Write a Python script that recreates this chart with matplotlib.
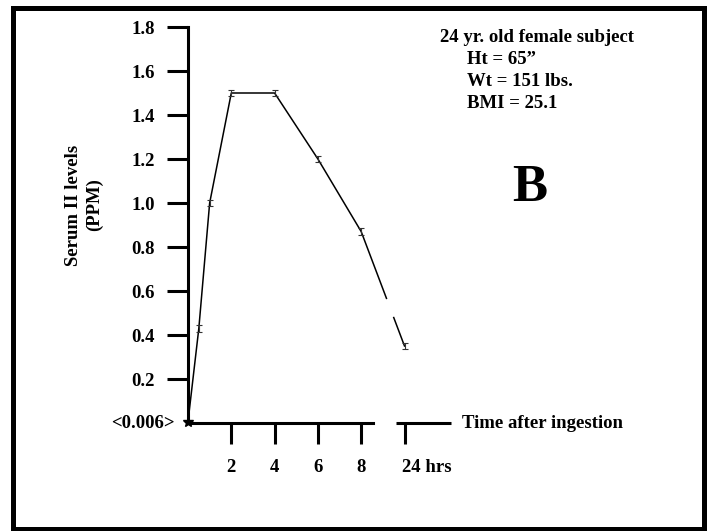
import matplotlib
matplotlib.use('Agg')
from matplotlib import pyplot as plt
from matplotlib.patches import Rectangle
from matplotlib import transforms
import numpy as np

# hours after ingestion, and where they sit on the broken axis
hours = [0, 0.5, 1, 2, 4, 6, 8, 24]
pos = [0, 0.5, 1, 2, 4, 6, 8, 10]
serum = [0.006, 0.43, 1.0, 1.5, 1.5, 1.2, 0.87, 0.35]
err = [0, 0.015, 0.015, 0.015, 0.015, 0.015, 0.015, 0.015]

yticks = [0.2, 0.4, 0.6, 0.8, 1.0, 1.2, 1.4, 1.6, 1.8]
xticks = [2, 4, 6, 8, 10]
xlabels = ['2', '4', '6', '8', '24 hrs']

subject = ['24 yr. old female subject', 'Ht = 65\u201d', 'Wt = 151 lbs.', 'BMI = 25.1']

plt.rcParams['font.family'] = ['Liberation Serif', 'DejaVu Serif']
plt.rcParams['font.weight'] = 'bold'

W, H = 709, 531
fig = plt.figure(figsize=(W / 100, H / 100), dpi=100)
ax = fig.add_axes([0, 0, 1, 1])

# pixel layout: x=0 at px 188, 21.65 px/hr; y=0 at px 423, 220 px/unit
x0, sx = 188, 21.65
y0, sy = 423, 220
ax.set_xlim(-x0 / sx, (W - x0) / sx)
ax.set_ylim((y0 - H) / sy, y0 / sy)
ax.patch.set_visible(False)

for s in ['top', 'right']:
    ax.spines[s].set_visible(False)
ax.spines['left'].set_position(('data', 0))
ax.spines['bottom'].set_position(('data', 0))
ax.spines['left'].set_bounds(0, 1.8)
ax.spines['bottom'].set_bounds(0, 8.55)
for s in ['left', 'bottom']:
    ax.spines[s].set_linewidth(2.2)
# second piece of the broken time axis
ax.plot([9.61, 12.15], [0, 0], color='black', lw=2.2, solid_capstyle='butt', clip_on=False)

ax.set_yticks(yticks)
ax.set_yticklabels(['%.1f' % v for v in yticks])
ax.set_xticks(xticks)
ax.set_xticklabels(xlabels)
ax.tick_params(axis='both', direction='out', length=15, width=2.2, labelsize=13.5)
ax.tick_params(axis='y', pad=9)
ax.tick_params(axis='x', pad=11)
last = ax.get_xticklabels()[-1]
last.set_horizontalalignment('left')
last.set_transform(last.get_transform() + transforms.ScaledTranslation(-3 / 100, 0, fig.dpi_scale_trans))

# data line with break between 8 h and 24 h
ax.plot(pos, serum, color='black', lw=1.1, zorder=3, clip_on=False)
brk = np.array([9.18, 9.49])
ax.plot(brk, np.interp(brk, pos, serum), color='white', lw=4, zorder=4, solid_capstyle='butt')
ax.errorbar(pos[1:], serum[1:], yerr=err[1:], fmt='none', ecolor='#333333',
            elinewidth=0.8, capsize=2, capthick=0.8, zorder=5)
ax.plot(pos[0], serum[0], marker='*', color='black', ms=7, zorder=5, clip_on=False)

ax.annotate('<0.006>', xy=(0, 0), xytext=(-9.5, 0), textcoords='offset points',
            ha='right', va='center', fontsize=13.5, fontweight='bold')

ax.text(-104 / sx, (y0 - 205) / sy, 'Serum II levels\n(PPM)', rotation=90, ha='center', va='center',
        multialignment='center', fontsize=13.5, fontweight='bold', linespacing=1.25)
ax.text((462 - x0) / sx, 0, 'Time after ingestion', ha='left', va='center',
        fontsize=13.5, fontweight='bold')

ax.text((440 - x0) / sx, (y0 - 37) / sy, subject[0], ha='left', va='center',
        fontsize=13.5, fontweight='bold')
for i, line in enumerate(subject[1:]):
    ax.text((467 - x0) / sx, (y0 - 60 - 22 * i) / sy, line, ha='left', va='center',
            fontsize=13.5, fontweight='bold')

ax.text((530 - x0) / sx, (y0 - 188) / sy, 'B', ha='center', va='center',
        fontsize=38, fontweight='bold')

# thick frame round the panel
fig.add_artist(Rectangle((12.5 / W, 2 / H), (703.5 - 12.5) / W, (529 - 7.5) / H,
                         transform=fig.transFigure, fill=False, lw=3.6, edgecolor='black'))

plt.savefig('out.png', dpi=100)
plt.close()
